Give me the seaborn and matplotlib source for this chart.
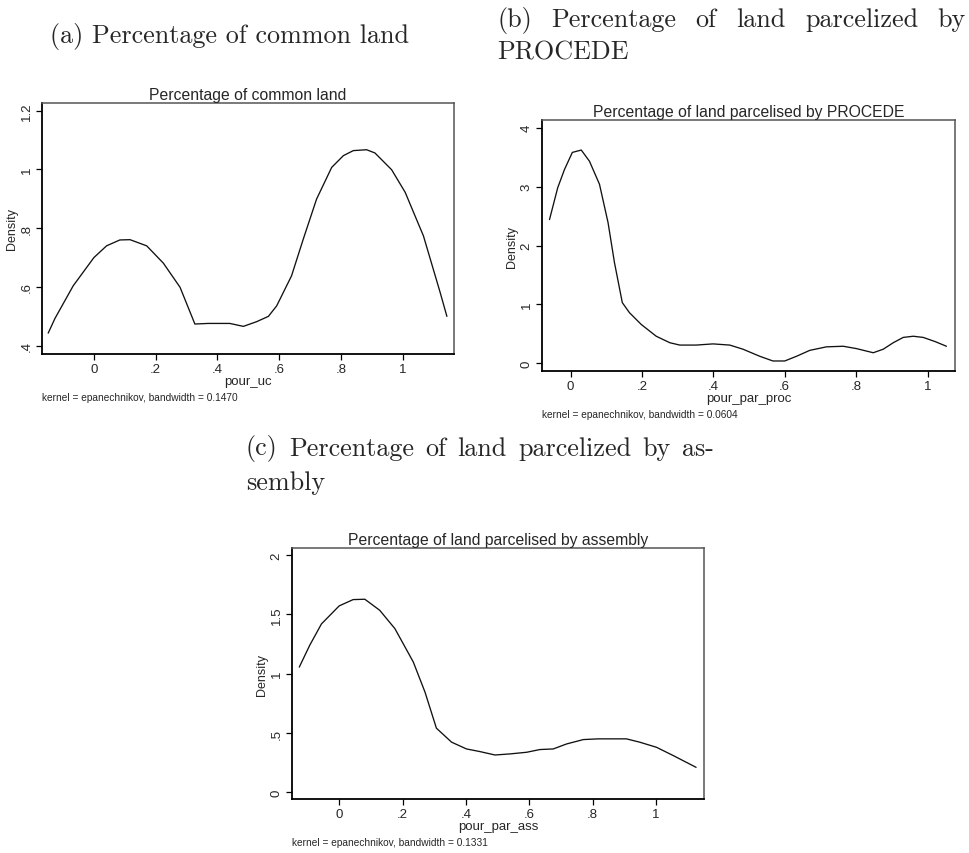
import numpy as np
import pandas as pd
import matplotlib
matplotlib.use("Agg")
import matplotlib.pyplot as plt
import seaborn as sns
from matplotlib.ticker import FuncFormatter

# ── Data ────────────────────────────────────────────────────────────────────
uc_x = [-0.148, -0.126, -0.067, 0.000, 0.041, 0.084, 0.117, 0.171, 0.225, 0.279,
        0.327, 0.370, 0.440, 0.484, 0.527, 0.565, 0.592, 0.640, 0.678, 0.721,
        0.770, 0.808, 0.840, 0.883, 0.910, 0.964, 1.008, 1.035, 1.067, 1.121, 1.143]
uc_y = [0.443, 0.493, 0.604, 0.700, 0.740, 0.760, 0.761, 0.740, 0.681, 0.599,
        0.474, 0.476, 0.476, 0.466, 0.482, 0.500, 0.536, 0.638, 0.763, 0.899,
        1.007, 1.047, 1.064, 1.067, 1.056, 0.999, 0.922, 0.854, 0.774, 0.582, 0.500]

proc_x = [-0.059, -0.036, -0.017, 0.005, 0.030, 0.053, 0.081, 0.105, 0.123, 0.145,
          0.165, 0.198, 0.240, 0.278, 0.306, 0.352, 0.399, 0.446, 0.483, 0.530,
          0.567, 0.600, 0.633, 0.670, 0.717, 0.764, 0.801, 0.848, 0.876, 0.904,
          0.932, 0.960, 0.988, 1.021, 1.053]
proc_y = [2.44, 2.98, 3.29, 3.58, 3.62, 3.43, 3.04, 2.39, 1.71, 1.03,
          0.86, 0.66, 0.46, 0.35, 0.31, 0.31, 0.33, 0.31, 0.24, 0.12,
          0.04, 0.04, 0.12, 0.22, 0.28, 0.29, 0.25, 0.18, 0.24, 0.35,
          0.44, 0.46, 0.44, 0.37, 0.29]

ass_x = [-0.126, -0.093, -0.056, 0.000, 0.044, 0.081, 0.128, 0.176, 0.234, 0.271,
         0.307, 0.355, 0.402, 0.444, 0.492, 0.539, 0.592, 0.634, 0.676, 0.718,
         0.771, 0.818, 0.855, 0.907, 0.949, 1.002, 1.055, 1.127]
ass_y = [1.056, 1.240, 1.420, 1.572, 1.625, 1.628, 1.535, 1.380, 1.099, 0.845,
         0.541, 0.423, 0.366, 0.344, 0.315, 0.324, 0.338, 0.361, 0.366, 0.408,
         0.445, 0.451, 0.451, 0.451, 0.423, 0.380, 0.310, 0.211]

x_ticks = [0, 0.2, 0.4, 0.6, 0.8, 1]
uc_yticks = [0.4, 0.6, 0.8, 1.0, 1.2]
proc_yticks = [0, 1, 2, 3, 4]
ass_yticks = [0, 0.5, 1.0, 1.5, 2.0]

W, H = 969, 854
sns.set_theme(style="white")
plt.rcParams['font.family'] = ['Liberation Sans', 'DejaVu Sans']

fig = plt.figure(figsize=(W / 100, H / 100), dpi=100)


def stata_fmt(v, pos=None):
    s = f"{v:g}"
    if s.startswith("0."):
        s = s[1:]
    return s


def px_axes(left, top, right, bottom):
    return fig.add_axes([left / W, 1 - bottom / H, (right - left) / W, (bottom - top) / H])


def density_panel(box, xs, ys, xlim, ylim, yticks, title, xlabel, note):
    ax = px_axes(*box)
    df = pd.DataFrame({"x": xs, "y": ys})
    sns.lineplot(data=df, x="x", y="y", ax=ax, color="#111111", linewidth=0.95,
                 sort=False, estimator=None)
    ax.set_xlim(*xlim)
    ax.set_ylim(*ylim)
    ax.set_xticks(x_ticks)
    ax.set_yticks(yticks)
    ax.xaxis.set_major_formatter(FuncFormatter(stata_fmt))
    ax.yaxis.set_major_formatter(FuncFormatter(stata_fmt))
    ax.tick_params(axis="both", direction="out", length=4.3, width=0.9,
                   color="black", labelsize=9.5, bottom=True, left=True, pad=2)
    ax.tick_params(axis="y", pad=2.5)
    for lab in ax.get_yticklabels():
        lab.set_rotation(90)
        lab.set_va("center")
    for side in ["left", "bottom"]:
        ax.spines[side].set_color("black")
        ax.spines[side].set_linewidth(1.3)
    for side in ["top", "right"]:
        ax.spines[side].set_color("#555555")
        ax.spines[side].set_linewidth(1.1)
    ax.set_title(title, fontsize=11.3, pad=3)
    ax.set_xlabel(xlabel, fontsize=9.5, labelpad=0)
    ax.set_ylabel("Density", fontsize=9, labelpad=2)
    ax.text(0, -0.15, note, transform=ax.transAxes, fontsize=7.3, ha="left", va="top")
    return ax


density_panel((42, 104, 454, 355), uc_x, uc_y, (-0.168, 1.166), (0.372, 1.226),
              uc_yticks, "Percentage of common land", "pour_uc",
              "kernel = epanechnikov, bandwidth = 0.1470")
density_panel((542, 121, 955, 372), proc_x, proc_y, (-0.080, 1.077), (-0.13, 4.13),
              proc_yticks, "Percentage of land parcelised by PROCEDE", "pour_par_proc",
              "kernel = epanechnikov, bandwidth = 0.0604")
density_panel((292, 549, 704, 800), ass_x, ass_y, (-0.149, 1.152), (-0.056, 2.06),
              ass_yticks, "Percentage of land parcelised by assembly", "pour_par_ass",
              "kernel = epanechnikov, bandwidth = 0.1331")

# ── LaTeX-style sub-captions ─────────────────────────────────────────────────
CAP = dict(family="cmr10", fontsize=18.8, va="center")


def justified(words, x0, x1, y):
    texts = [fig.text(0, 1 - y / H, w, ha="left", **CAP) for w in words]
    fig.canvas.draw()
    r = fig.canvas.get_renderer()
    widths = [t.get_window_extent(r).width for t in texts]
    gap = ((x1 - x0) - sum(widths)) / (len(words) - 1)
    x = x0
    for t, w in zip(texts, widths):
        t.set_x(x / W)
        x += w + gap


fig.text(50 / W, 1 - 37 / H, "(a) Percentage of common land", ha="left", **CAP)
justified(["(b)", "Percentage", "of", "land", "parcelized", "by"], 497, 966, 20)
fig.text(497 / W, 1 - 53 / H, "PROCEDE", ha="left", **CAP)
justified(["(c)", "Percentage", "of", "land", "parcelized", "by", "as-"], 246, 714, 449)
fig.text(246 / W, 1 - 483 / H, "sembly", ha="left", **CAP)

fig.savefig("out.png", dpi=100)
